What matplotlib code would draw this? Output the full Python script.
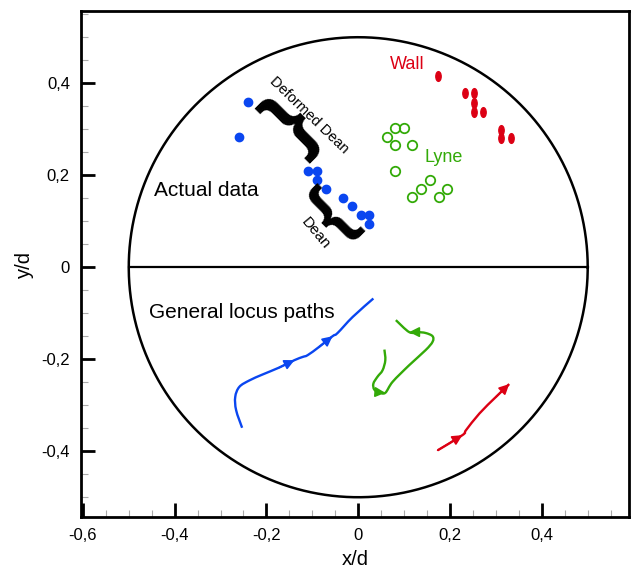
import matplotlib.pyplot as plt
import numpy as np
from matplotlib.path import Path
from matplotlib.patches import PathPatch
from matplotlib.transforms import Affine2D
from matplotlib.ticker import MultipleLocator, FuncFormatter

plt.rcParams['font.family'] = ['Liberation Sans', 'DejaVu Sans']

# measured particle positions (x/d, y/d)
dean_x = [-0.240, -0.259, -0.109, -0.090, -0.090, -0.070, -0.033, -0.014, 0.005, 0.024, 0.024]
dean_y = [0.359, 0.283, 0.209, 0.209, 0.189, 0.170, 0.151, 0.133, 0.114, 0.114, 0.095]

lyne_x = [0.081, 0.100, 0.062, 0.081, 0.118, 0.081, 0.156, 0.137, 0.194, 0.118, 0.175]
lyne_y = [0.302, 0.302, 0.283, 0.265, 0.265, 0.209, 0.190, 0.171, 0.171, 0.152, 0.152]

wall_x = [0.174, 0.233, 0.253, 0.253, 0.253, 0.272, 0.312, 0.312, 0.332]
wall_y = [0.415, 0.378, 0.378, 0.358, 0.338, 0.338, 0.299, 0.280, 0.280]

# general locus paths
blue_px = [-0.253, -0.266, -0.268, -0.259, -0.237, -0.208, -0.172, -0.139, -0.121,
           -0.110, -0.085, -0.056, -0.045, -0.012, 0.033]
blue_py = [-0.349, -0.311, -0.282, -0.260, -0.246, -0.233, -0.218, -0.202, -0.195,
           -0.191, -0.173, -0.150, -0.143, -0.108, -0.068]
blue_arrows = [7, 11]

green_px = [0.057, 0.059, 0.053, 0.042, 0.033, 0.035, 0.046, 0.059, 0.075, 0.111,
            0.147, 0.162, 0.162, 0.147, 0.129, 0.111, 0.082]
green_py = [-0.179, -0.202, -0.224, -0.238, -0.253, -0.266, -0.272, -0.273, -0.249,
            -0.213, -0.180, -0.162, -0.150, -0.143, -0.141, -0.141, -0.115]
green_arrows = [7, 15]

red_px = [0.173, 0.227, 0.235, 0.264, 0.300, 0.329]
red_py = [-0.398, -0.365, -0.354, -0.318, -0.282, -0.254]
red_arrows = [1, 5]

blue = '#0a46f0'
green = '#33aa08'
red = '#dc0014'


def smooth_path(xs, ys):
    # cubic bezier through the points (Catmull-Rom tangents)
    p = np.column_stack([xs, ys])
    n = len(p)
    verts = [p[0]]
    codes = [Path.MOVETO]
    for i in range(n - 1):
        p0 = p[i - 1] if i > 0 else p[i]
        p3 = p[i + 2] if i + 2 < n else p[i + 1]
        c1 = p[i] + (p[i + 1] - p0) / 6
        c2 = p[i + 1] - (p3 - p[i]) / 6
        verts += [c1, c2, p[i + 1]]
        codes += [Path.CURVE4] * 3
    return Path(verts, codes)


fig = plt.figure(figsize=(6.33, 5.73), dpi=100)
ax = fig.add_axes([0.128, 0.0977, 0.8657, 0.8831])
ax.set_xlim(-0.604, 0.59)
ax.set_ylim(-0.543, 0.557)

# pipe cross-section
t = np.linspace(0, 2 * np.pi, 400)
ax.plot(0.5 * np.cos(t), 0.5 * np.sin(t), color='black', lw=1.8)
ax.plot([-0.5, 0.5], [0, 0], color='black', lw=1.6)

# elongated marker for the wall points
circ = Path.unit_circle()
oval = Path(Affine2D().scale(0.55, 1.0).transform(circ.vertices), circ.codes)

ax.plot(dean_x, dean_y, 'o', color=blue, ms=6, mec=blue)
ax.plot(lyne_x, lyne_y, 'o', mfc='none', mec=green, ms=6.8, mew=1.3)
ax.plot(wall_x, wall_y, linestyle='none', marker=oval, color=red, ms=7)

for px, py, arr, c in [(blue_px, blue_py, blue_arrows, blue),
                       (green_px, green_py, green_arrows, green),
                       (red_px, red_py, red_arrows, red)]:
    ax.add_patch(PathPatch(smooth_path(px, py), fill=False, edgecolor=c,
                           lw=1.7, capstyle='butt'))
    for i in arr:
        ax.annotate('', xy=(px[i], py[i]), xytext=(px[i - 1], py[i - 1]),
                    arrowprops=dict(arrowstyle='-|>', color=c, lw=1.2,
                                    mutation_scale=15, shrinkA=0, shrinkB=0))

# labels
ax.text(-0.445, 0.167, 'Actual data', fontsize=15, va='center')
ax.text(-0.455, -0.098, 'General locus paths', fontsize=15, va='center')
ax.text(0.068, 0.441, 'Wall', fontsize=13, color=red, va='center')
ax.text(0.144, 0.239, 'Lyne', fontsize=13, color=green, va='center')
ax.text(-0.108, 0.330, 'Deformed Dean', fontsize=10.5, rotation=-44,
        ha='center', va='center', rotation_mode='anchor')
ax.text(-0.092, 0.073, 'Dean', fontsize=11, rotation=-50,
        ha='center', va='center', rotation_mode='anchor')
ax.text(-0.143, 0.310, '}', fontsize=60, fontweight='semibold', rotation=45,
        ha='center', va='center')
ax.text(-0.056, 0.113, '{', fontsize=52, fontweight='semibold', rotation=45,
        ha='center', va='center')

# axes styling
for s in ax.spines.values():
    s.set_linewidth(2)
ax.xaxis.set_major_locator(MultipleLocator(0.2))
ax.yaxis.set_major_locator(MultipleLocator(0.2))
ax.xaxis.set_minor_locator(MultipleLocator(0.05))
ax.yaxis.set_minor_locator(MultipleLocator(0.05))
ax.tick_params(which='major', direction='in', length=10, width=2, labelsize=12, pad=8)
ax.tick_params(which='minor', direction='in', length=5, width=0.8, color='#aaaaaa')


def comma(v, pos):
    if abs(v) < 1e-9:
        return '0'
    return f'{v:.1f}'.replace('.', ',')


ax.xaxis.set_major_formatter(FuncFormatter(comma))
ax.yaxis.set_major_formatter(FuncFormatter(comma))
ax.set_xlabel('x/d', fontsize=14.5, labelpad=5)
ax.set_ylabel('y/d', fontsize=14.5, labelpad=5)

fig.savefig('out.png', dpi=100)
